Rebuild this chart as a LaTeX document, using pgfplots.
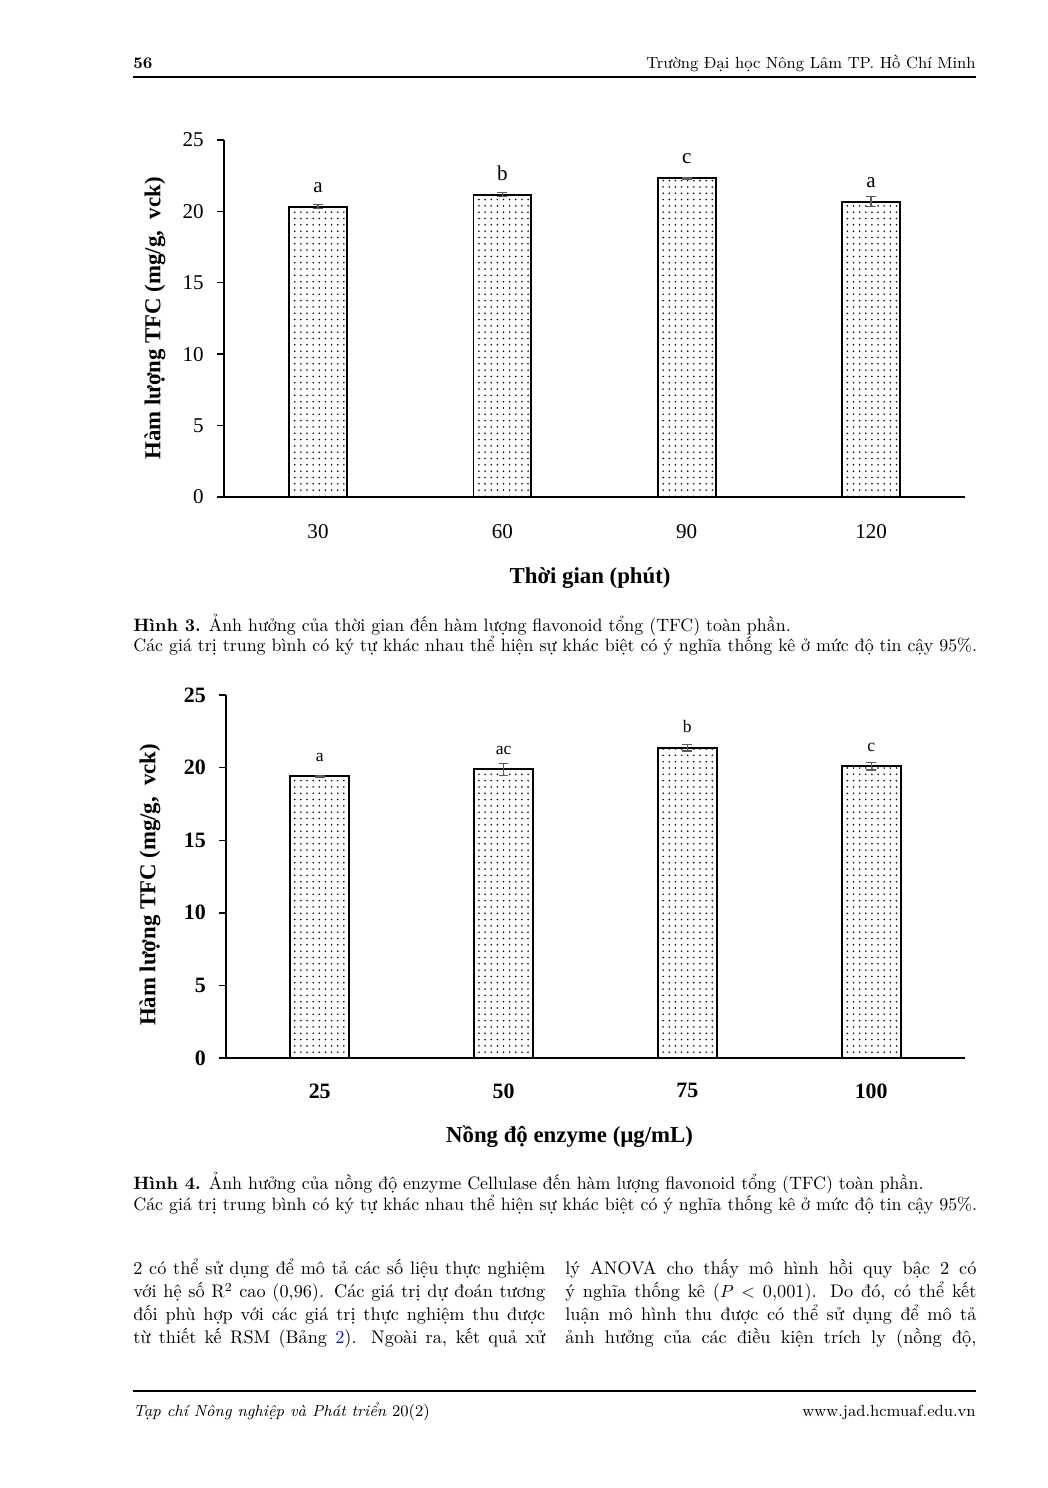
\documentclass[border=0pt]{standalone}
\usepackage{fontspec}
\usepackage{pgfplots}
\pgfplotsset{compat=1.18}
\usetikzlibrary{patterns}
\newfontfamily\tnr{Liberation Serif}
\definecolor{lk}{RGB}{20,20,210}
\definecolor{eb}{RGB}{90,90,90}
\newcommand\hfnt{\fontsize{9.2}{11}\selectfont}
\newcommand\cfnt{\fontsize{10.2}{12}\selectfont}
\newcommand\bfnt{\fontsize{10.4}{12}\selectfont}
\pgfdeclarepatternformonly{sparsedots}{\pgfqpoint{-1pt}{-1pt}}{\pgfqpoint{1pt}{1pt}}{\pgfqpoint{3.5pt}{3.6pt}}%
  {\pgfpathcircle{\pgfqpoint{0pt}{0pt}}{0.5pt}\pgfusepath{fill}}
\begin{document}
\begin{tikzpicture}[x=0.57pt,y=0.57pt]
\path[fill=white] (0,0) rectangle (1047,1488);
% header
\node[anchor=base west,inner sep=0pt,font=\hfnt\bfseries] at (133,1488-69) {56};
\node[anchor=base east,inner sep=0pt,font=\hfnt] at (976,1488-69) {Trường Đại học Nông Lâm TP. Hồ Chí Minh};
\draw[line width=1.2pt] (133,1488-77) -- (976,1488-77);
% footer
\draw[line width=1.2pt] (133,1488-1391) -- (976,1488-1391);
\node[anchor=base west,inner sep=0pt,font=\hfnt] at (133,1488-1417) {\textit{Tạp chí Nông nghiệp và Phát triển} 20(2)};
\node[anchor=base east,inner sep=0pt,font=\hfnt] at (976,1488-1417) {www.jad.hcmuaf.edu.vn};

% ---------- chart 1 ----------
\begin{axis}[
  at={(127.68pt,564.87pt)}, anchor=south west, scale only axis,
  width=422.4pt, height=203.5pt,
  xmin=-0.51, xmax=3.51, ymin=0, ymax=25,
  axis x line*=bottom, axis y line*=left,
  axis line style={line width=0.8pt,-},
  xtick={0,1,2,3}, xticklabels={30,60,90,120},
  x tick style={draw=none},
  ytick={0,5,10,15,20,25},
  y tick style={line width=0.8pt,black},
  tick align=outside, major tick length=4pt,
  tick label style={font=\tnr\fontsize{12}{14}\selectfont},
  /pgf/number format/assume math mode=true,
  xticklabel style={yshift=-8pt},
  yticklabel style={xshift=-4pt},
  xlabel={Thời gian (phút)},
  xlabel style={font=\tnr\bfseries\fontsize{13}{15}\selectfont, at={(axis description cs:0.494,-0.227)}, anchor=center},
  ylabel={Hàm lượng TFC (mg/g,\ \ vck)},
  ylabel style={font=\tnr\bfseries\fontsize{13}{15}\selectfont, at={(axis description cs:-0.093,0.5)}, anchor=center},
  clip=false,
]
\addplot[ybar, bar width=33pt, draw=black, line width=1pt, pattern=sparsedots,
  point meta=explicit symbolic, nodes near coords,
  every node near coord/.append style={inner sep=0pt, anchor=south, yshift=7.6pt, black, font=\tnr\fontsize{12}{14}\selectfont},
  error bars/.cd, y dir=both, y explicit,
  error bar style={eb, line width=0.7pt},
  error mark options={rotate=90, mark size=2.8pt, eb, line width=0.7pt}]
  table[x=x, y=y, y error=e, meta=l, row sep=\\]{
  x y e l\\
  0 20.33 0.15 a\\
  1 21.17 0.15 b\\
  2 22.32 0.05 c\\
  3 20.68 0.36 a\\
  };
\end{axis}

\node[anchor=base west,inner sep=0pt,font=\cfnt] at (133,1488-632) {\textbf{Hình 3.} Ảnh hưởng của thời gian đến hàm lượng flavonoid tổng (TFC) toàn phần.};
\node[anchor=base west,inner sep=0pt,font=\cfnt] at (133,1488-652) {Các giá trị trung bình có ký tự khác nhau thể hiện sự khác biệt có ý nghĩa thống kê ở mức độ tin cậy 95\%.};

% ---------- chart 2 ----------
\begin{axis}[
  at={(128.82pt,245.1pt)}, anchor=south west, scale only axis,
  width=421.2pt, height=206.9pt,
  xmin=-0.51, xmax=3.51, ymin=0, ymax=25,
  axis x line*=bottom, axis y line*=left,
  axis line style={line width=0.8pt,-},
  xtick={0,1,2,3}, xticklabels={25,50,75,100},
  x tick style={draw=none},
  ytick={0,5,10,15,20,25},
  y tick style={line width=0.8pt,black},
  tick align=outside, major tick length=4pt,
  tick label style={font=\tnr\bfseries\fontsize{12.5}{14}\selectfont},
  /pgf/number format/assume math mode=true,
  xticklabel style={yshift=-7pt},
  yticklabel style={xshift=-4pt},
  xlabel={Nồng độ enzyme (µg/mL)},
  xlabel style={font=\tnr\bfseries\fontsize{13}{15}\selectfont, at={(axis description cs:0.465,-0.218)}, anchor=center},
  ylabel={Hàm lượng TFC (mg/g,\ \ vck)},
  ylabel style={font=\tnr\bfseries\fontsize{13}{15}\selectfont, at={(axis description cs:-0.103,0.477)}, anchor=center},
  clip=false,
]
\addplot[ybar, bar width=33.6pt, draw=black, line width=1pt, pattern=sparsedots,
  point meta=explicit symbolic, nodes near coords,
  every node near coord/.append style={inner sep=0pt, anchor=south, yshift=8pt, black, font=\tnr\fontsize{10}{11}\selectfont},
  error bars/.cd, y dir=both, y explicit,
  error bar style={eb, line width=0.7pt},
  error mark options={rotate=90, mark size=2.8pt, eb, line width=0.7pt}]
  table[x=x, y=y, y error=e, meta=l, row sep=\\]{
  x y e l\\
  0 19.40 0.04 a\\
  1 19.88 0.40 ac\\
  2 21.37 0.22 b\\
  3 20.09 0.25 c\\
  };
\end{axis}

\node[anchor=base west,inner sep=0pt,font=\cfnt] at (133,1488-1190) {\textbf{Hình 4.} Ảnh hưởng của nồng độ enzyme Cellulase đến hàm lượng flavonoid tổng (TFC) toàn phần.};
\node[anchor=base west,inner sep=0pt,font=\cfnt] at (133,1488-1211) {Các giá trị trung bình có ký tự khác nhau thể hiện sự khác biệt có ý nghĩa thống kê ở mức độ tin cậy 95\%.};

% ---------- body text ----------
\begin{scope}[every node/.style={anchor=base west,inner sep=0pt,font=\bfnt}]
\node at (133,1488-1275) {\makebox[234.8pt][s]{2 có thể sử dụng để mô tả các số liệu thực nghiệm}};
\node at (133,1488-1298) {\makebox[234.8pt][s]{với hệ số R$^2$ cao (0,96). Các giá trị dự đoán tương}};
\node at (133,1488-1321) {\makebox[234.8pt][s]{đối phù hợp với các giá trị thực nghiệm thu được}};
\node at (133,1488-1344) {\makebox[234.8pt][s]{từ thiết kế RSM (Bảng \textcolor{lk}{2}). Ngoài ra, kết quả xử}};
\node at (565,1488-1275) {\makebox[234.3pt][s]{lý ANOVA cho thấy mô hình hồi quy bậc 2 có}};
\node at (565,1488-1298) {\makebox[234.3pt][s]{ý nghĩa thống kê ($P<$ 0,001). Do đó, có thể kết}};
\node at (565,1488-1321) {\makebox[234.3pt][s]{luận mô hình thu được có thể sử dụng để mô tả}};
\node at (565,1488-1344) {\makebox[234.3pt][s]{ảnh hưởng của các điều kiện trích ly (nồng độ,}};
\end{scope}
\end{tikzpicture}
\end{document}
